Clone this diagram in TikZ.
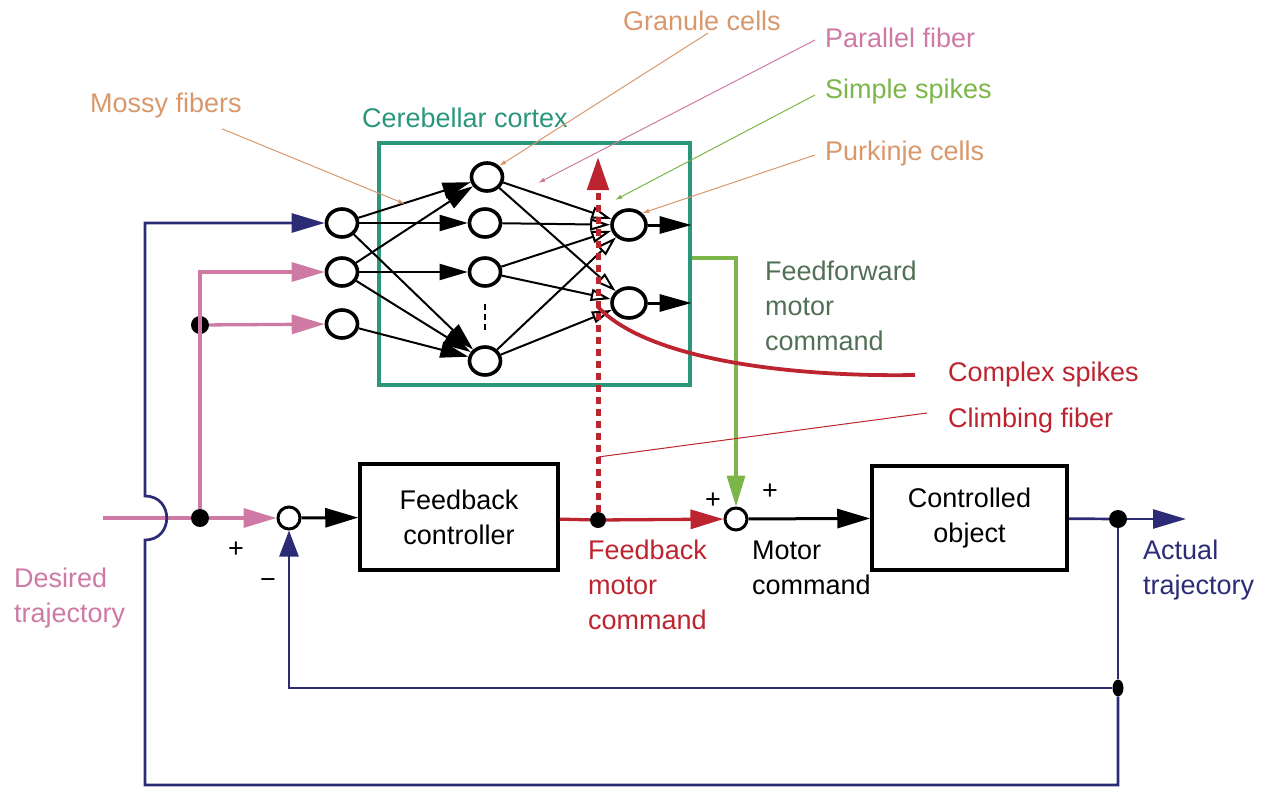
\documentclass[tikz,border=0pt]{standalone}
\usepackage{fontspec}
\setmainfont{Liberation Sans}
\usetikzlibrary{positioning}
\usetikzlibrary{arrows.meta}
\usetikzlibrary{calc}
\usetikzlibrary{shapes.geometric}

\definecolor{trajpink}{RGB}{206,122,164}
\definecolor{trajnavy}{RGB}{44,44,118}
\definecolor{celltan}{RGB}{216,152,108}
\definecolor{cortexteal}{RGB}{42,150,122}
\definecolor{spikegreen}{RGB}{124,182,72}
\definecolor{ffgrey}{RGB}{82,112,86}
\definecolor{fibred}{RGB}{188,36,48}

\begin{document}
\begin{tikzpicture}[
    x=1pt, y=-1pt,
    every node/.style={font=\fontsize{27}{35}\selectfont, align=left, inner sep=2pt},
    cell/.style={ellipse, draw=black, line width=3.6pt, fill=white, minimum width=31pt, minimum height=28pt, inner sep=0pt},
    pcell/.style={cell, minimum width=34pt, minimum height=30pt},
    sum/.style={circle, draw=black, line width=3pt, fill=white, minimum size=22pt, inner sep=0pt},
    dot/.style={circle, fill=black, minimum size=18pt, inner sep=0pt},
    block/.style={rectangle, draw=black, line width=3.5pt, minimum width=198pt, minimum height=106pt, align=center},
    big/.style={-{Triangle[length=33pt,width=19pt]}},
    axon/.style={draw=black, line width=2pt},
    syn/.style={axon, -{Triangle[length=20pt,width=12pt,fill=white]}},
    ptr/.style={line width=1pt, -{Latex[length=7pt,width=4.5pt]}}
]
    \useasboundingbox (0,0) rectangle (1267,806);

    % cerebellar cortex
    \node[draw=cortexteal, line width=3.2pt, minimum width=311pt, minimum height=242pt] (ctx) at (534.5,264) {};
    \node[text=cortexteal, anchor=west] (lctx) at (360,118) {Cerebellar cortex};

    \node[cell] (M1) at (342,223) {};
    \node[cell] (M2) at (342,272) {};
    \node[cell] (M3) at (342,324) {};

    \node[cell] (G1) at (487,177) {};
    \node[cell] (G2) at (485,223) {};
    \node[cell] (G3) at (485,272) {};
    \node[cell] (G4) at (485,361) {};

    \node[pcell] (P1) at (629,225) {};
    \node[pcell] (P2) at (629,303) {};

    \foreach \a/\b in {M1/G1, M2/G1, M1/G2, M2/G3, M1/G4, M2/G4, M3/G4}
        \draw[axon, -{Triangle[length=28pt,width=16pt]}] (\a) -- (\b);
    \foreach \a/\b in {G1/P1, G2/P1, G3/P1, G4/P1, G1/P2, G3/P2, G4/P2}
        \draw[syn] (\a) -- (\b);
    \draw[line width=2.2pt, dash pattern=on 6pt off 4pt] ($(G3)!0.36!(G4)$) -- ($(G3)!0.66!(G4)$);

    \draw[axon, line width=3pt, -{Triangle[length=32pt,width=17pt]}] (P1) -- (P1 -| ctx.east);
    \draw[axon, line width=3pt, -{Triangle[length=32pt,width=17pt]}] (P2) -- (P2 -| ctx.east);

    % control loop
    \node[sum] (j1) at (289,518) {};
    \node[block] (FB) at (459,517) {Feedback\\controller};
    \node[sum] (j2) at (736,519) {};
    \node[block, minimum width=195pt, minimum height=104pt] (CO) at (969.5,518) {Controlled\\object};

    \node[dot] (d1) at (200,518) {};
    \node[dot] (d2) at (200,325) {};
    \node[dot, minimum size=16pt] (d5) at (598,520) {};
    \node[dot] (d3) at (1118,519) {};
    \node[dot, ellipse, minimum width=11pt, minimum height=17pt] (d4) at (1118,688) {};

    \coordinate (desin) at (103,518);
    \coordinate (actout) at (1186,519);
    \coordinate (hopb) at (145,540);
    \coordinate (hopt) at (145,496);
    \coordinate (ctop) at (598,157);
    \coordinate (cfend) at (598,307);

    \draw[trajpink, line width=3.3pt] (desin) -- (d1);
    \draw[trajpink, line width=3.3pt, big] (d1) -- (j1);
    \draw[trajpink, line width=3.3pt, big] (d1) |- (M2);
    \draw[trajpink, line width=3.3pt, big] (d2) -- (M3);

    \draw[line width=3pt, big] (j1) -- (FB);
    \draw[line width=3pt, big] (j2) -- (CO);

    \draw[fibred, line width=3.3pt] (FB) -- (d5);
    \draw[fibred, line width=3.3pt, big] (d5) -- (j2);

    \draw[trajnavy, line width=2.7pt] (CO) -- (d3);
    \draw[trajnavy, line width=2.7pt, big] (d3) -- (actout);
    \draw[trajnavy, line width=2.7pt] (d3) -- (d4);
    \draw[trajnavy, line width=2.7pt, -{Triangle[length=26pt,width=19pt]}] (d4) -| (j1);
    \draw[trajnavy, line width=2.7pt, big] (d4) -- ($(d4)+(0,97)$) -| (hopb)
        .. controls +(29,0) and +(29,0) .. (hopt) |- (M1);

    \draw[spikegreen, line width=3.3pt, -{Triangle[length=31pt,width=18pt]}] ([yshift=6pt]ctx.east) -| (j2);

    % climbing fiber
    \draw[fibred, line width=5pt, dash pattern=on 7pt off 5pt, -{Triangle[length=33pt,width=21pt]}] (d5) -- (ctop);

    % labels
    \node[text=celltan, anchor=west] (lmossy) at (88,106) {Mossy fibers};
    \node[text=celltan] (lgran) at (702,21) {Granule cells};
    \node[text=trajpink, anchor=west] (lpf) at (823,38) {Parallel fiber};
    \node[text=spikegreen, anchor=west] (lss) at (823,92) {Simple spikes};
    \node[text=celltan, anchor=west] (lpc) at (823,154) {Purkinje cells};
    \node[text=ffgrey, anchor=west] (lff) at (763,306) {Feedforward\\motor\\command};
    \node[text=fibred, anchor=west] (lcs) at (946,375) {Complex spikes};
    \node[text=fibred, anchor=west] (lcf) at (946,421) {Climbing fiber};
    \node[text=fibred, anchor=west] (lfbmc) at (586,585) {Feedback\\motor\\command};
    \node[anchor=west] (lmc) at (750,568) {Motor\\command};
    \node[text=trajpink, anchor=west] (ldes) at (12,598) {Desired\\trajectory};
    \node[text=trajnavy, anchor=west] (lact) at (1141,570) {Actual\\trajectory};

    \node (plus1) at (236,550) {+};
    \node (minus1) at (268,584) {−};
    \node (plus2) at (713,501) {+};
    \node (plus3) at (770,492) {+};

    \coordinate (mf) at (405,204);
    \coordinate (pf) at (538,183);
    \coordinate (ss) at (615,200);

    \draw[celltan, ptr] ([xshift=-22pt,yshift=-8pt]lmossy.south east) -- (mf);
    \draw[celltan, ptr] ([xshift=6pt]lgran.south) -- (G1.north east);
    \draw[trajpink, ptr] ([xshift=-8pt,yshift=-2pt]lpf.west) -- (pf);
    \draw[spikegreen, ptr] ([xshift=-8pt,yshift=-3pt]lss.west) -- (ss);
    \draw[celltan, ptr] ([xshift=-8pt,yshift=-1pt]lpc.west) -- (P1.north east);

    \draw[fibred, line width=3.8pt] ([xshift=-31pt]lcs.west) .. controls (800,377) and (650,362) .. (cfend);
    \draw[fibred, line width=1pt] ([xshift=-19pt,yshift=8pt]lcf.west) -- (598,457);

\end{tikzpicture}
\end{document}
